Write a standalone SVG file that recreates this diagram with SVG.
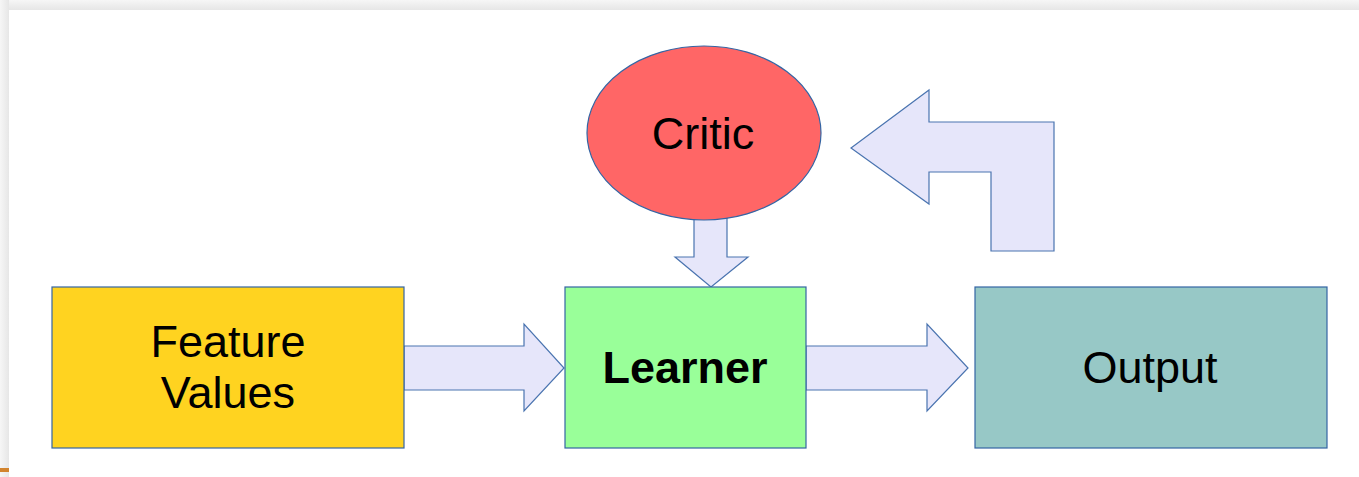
<svg xmlns="http://www.w3.org/2000/svg" width="1359" height="477" viewBox="0 0 1359 477">
  <defs>
    <linearGradient id="shadeTop" x1="0" y1="0" x2="0" y2="1">
      <stop offset="0" stop-color="#f6f6f6"/>
      <stop offset="1" stop-color="#e6e6e6"/>
    </linearGradient>
    <linearGradient id="shadeLeft" x1="0" y1="0" x2="1" y2="0">
      <stop offset="0" stop-color="#f6f6f6"/>
      <stop offset="1" stop-color="#e6e6e6"/>
    </linearGradient>
  </defs>
  <style>
    .box { stroke: #3465a4; stroke-width: 1.2; }
    .arrow { fill: #e6e6fa; stroke: #4a74b0; stroke-width: 1.2; stroke-linejoin: miter; }
    .label { font-family: "Liberation Sans", Arial, sans-serif; font-size: 45px; fill: #000; text-anchor: middle; }
    .bold { font-weight: bold; }
  </style>

  <!-- slide background with soft page shadow -->
  <rect x="0" y="0" width="1359" height="477" fill="#ffffff"/>
  <rect x="0" y="0" width="1359" height="10" fill="url(#shadeTop)"/>
  <rect x="0" y="0" width="9" height="477" fill="url(#shadeLeft)"/>
  <rect x="0" y="468" width="9" height="4" fill="#d2842e"/>

  <g id="connectors">
    <!-- Feature Values to Learner -->
    <polygon class="arrow" points="404,346 524,346 524,324 564,368 524,411 524,390 404,390"/>
    <!-- Learner to Output -->
    <polygon class="arrow" points="806,346 927,346 927,324 968,368 927,411 927,390 806,390"/>
    <!-- Critic to Learner -->
    <polygon class="arrow" points="694,214 727,214 727,257 748,257 711,287 675,257 694,257"/>
    <!-- Output back to Critic -->
    <polygon class="arrow" points="1054,251 991,251 991,172 929,172 929,204 851,148 929,90 929,122 1054,122"/>
  </g>

  <g id="feature-values">
    <rect class="box" x="52" y="287" width="352" height="161" fill="#ffd320"/>
    <text class="label" x="228" y="357">Feature</text>
    <text class="label" x="228" y="408">Values</text>
  </g>

  <g id="learner">
    <rect class="box" x="565" y="287" width="241" height="161" fill="#99ff99"/>
    <text class="label bold" x="685" y="383">Learner</text>
  </g>

  <g id="output">
    <rect class="box" x="975" y="287" width="352" height="161" fill="#97c8c6"/>
    <text class="label" x="1150" y="383">Output</text>
  </g>

  <g id="critic">
    <ellipse class="box" cx="704" cy="133" rx="117" ry="87" fill="#ff6666"/>
    <text class="label" x="703" y="149">Critic</text>
  </g>
</svg>
